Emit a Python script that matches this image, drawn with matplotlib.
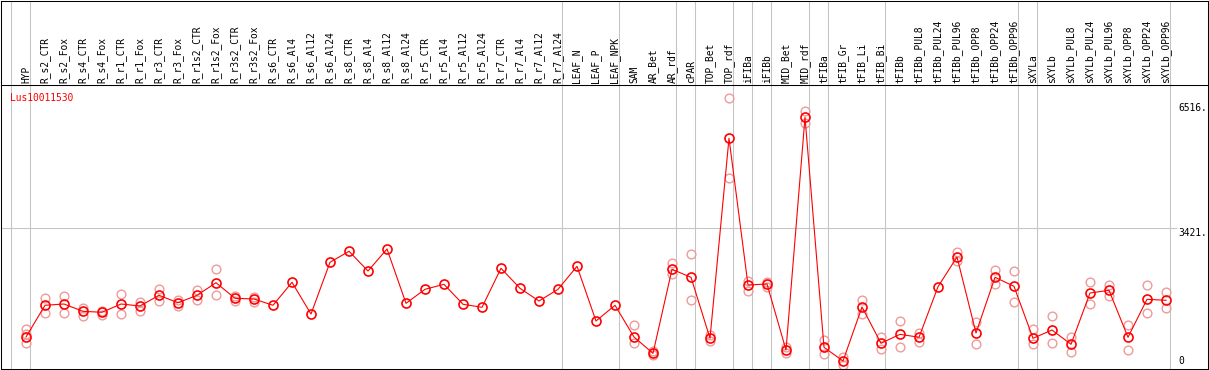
import matplotlib
matplotlib.use("Agg")
import matplotlib.pyplot as plt
import numpy as np

# === Datos ===
gene = "Lus10011530"

samples = [
    "HYP", "R_s2_CTR", "R_s2_Fox", "R_s4_CTR", "R_s4_Fox", "R_r1_CTR", "R_r1_Fox",
    "R_r3_CTR", "R_r3_Fox", "R_r1s2_CTR", "R_r1s2_Fox", "R_r3s2_CTR", "R_r3s2_Fox",
    "R_s6_CTR", "R_s6_Al4", "R_s6_Al12", "R_s6_Al24", "R_s8_CTR", "R_s8_Al4",
    "R_s8_Al12", "R_s8_Al24", "R_r5_CTR", "R_r5_Al4", "R_r5_Al12", "R_r5_Al24",
    "R_r7_CTR", "R_r7_Al4", "R_r7_Al12", "R_r7_Al24", "LEAF_N", "LEAF_P", "LEAF_NPK",
    "SAM", "AR_Bet", "AR_rdf", "cPAR", "TOP_Bet", "TOP_rdf", "iFIBa", "iFIBb",
    "MID_Bet", "MID_rdf", "tFIBa", "tFIB_Gr", "tFIB_Li", "tFIB_Bi", "tFIBb",
    "tFIBb_PUL8", "tFIBb_PUL24", "tFIBb_PUL96", "tFIBb_OPP8", "tFIBb_OPP24",
    "tFIBb_OPP96", "sXYLa", "sXYLb", "sXYLb_PUL8", "sXYLb_PUL24", "sXYLb_PUL96",
    "sXYLb_OPP8", "sXYLb_OPP24", "sXYLb_OPP96",
]

means = [
    723, 1508, 1540, 1359, 1335, 1540, 1491, 1755, 1572, 1755, 2067, 1681, 1664,
    1508, 2077, 1292, 2573, 2845, 2357, 2902, 1557, 1904, 2028, 1533, 1458, 2424,
    1929, 1614, 1904, 2474, 1119, 1508, 723, 319, 2399, 2201, 691, 5643, 2011,
    2035, 401, 6163, 468, 129, 1466, 567, 790, 716, 1968, 2704, 822, 2201, 1978,
    691, 896, 542, 1812, 1879, 716, 1656, 1632,
]

replicates = [
    [921, 797, 574], [1681, 1310], [1738, 1310], [1448, 1243], [1374, 1275],
    [1780, 1285], [1590, 1374], [1904, 1607], [1640, 1500], [1887, 1639],
    [2399, 1755], [1738, 1622], [1721, 1590], [], [], [], [], [], [], [], [],
    [], [], [], [], [], [], [], [], [], [], [],
    [1013, 567], [376, 265], [2555, 2283], [2778, 1632], [773, 631],
    [6633, 4652], [2117, 1869], [2092, 1968], [483, 334], [6311, 6014],
    [649, 302], [235, 30], [1639, 1285], [730, 433], [1119, 475], [822, 592],
    [], [2820, 2597], [1102, 550], [2374, 2035], [2350, 1590], [921, 542],
    [1236, 567], [723, 359], [2077, 1540], [2011, 1731], [1013, 394],
    [2003, 1325], [1837, 1448],
]

# ultimo indice de cada grupo de muestras
group_ends = [-1, 0, 28, 31, 34, 35, 37, 38, 39, 41, 42, 45, 52, 53, 60]

y_ticks = [6516, 3421, 0]
y_tick_labels = ["6516.", "3421.", "0"]

# === Layout (pixeles) ===
W, H = 1209, 370
X0, DX = 26, 19          # centro de la primera muestra, separacion
TOP_HDR, BOT = 85, 369   # linea bajo cabecera, borde inferior
Y0_PIX, PX_PER_UNIT = 366.2, 1 / 24.76

def px2x(p):
    return (p - X0) / DX

def px2v(p):
    return (Y0_PIX - p) / PX_PER_UNIT

plt.rcParams['font.family'] = ['DejaVu Sans Mono']
fig = plt.figure(figsize=(W / 100, H / 100), dpi=100)
fig.patch.set_facecolor("white")

left, right = 1 / W, 1208 / W
ax = fig.add_axes([left, 1 - BOT / H, right - left, (BOT - TOP_HDR) / H])
hx = fig.add_axes([left, 1 - TOP_HDR / H, right - left, (TOP_HDR - 0.5) / H])

xlim = (px2x(1), px2x(1208))
for a in (ax, hx):
    a.set_xlim(*xlim)
    a.set_xticks([])
    a.set_yticks([])
    for s in a.spines.values():
        s.set_linewidth(0.75)
        s.set_color("black")
    for g in group_ends:
        a.axvline(g + 4 / DX, color="#c4c4c4", lw=0.75, zorder=0)

ax.set_ylim(px2v(BOT), px2v(TOP_HDR))
hx.set_ylim(0, TOP_HDR)

x = np.arange(len(samples))

# etiquetas de muestras
for i, s in enumerate(samples):
    hx.text(x[i], 2, s, rotation=90, ha="center", va="bottom", fontsize=6.9)

# linea de rejilla y ticks a la derecha
x_lab = px2x(1178)
ax.hlines(y_ticks[1], xlim[0], px2x(1177), color="#c4c4c4", lw=0.75, zorder=0)
for v, lab in zip(y_ticks, y_tick_labels):
    ax.text(x_lab, v, lab, ha="left", va="bottom" if v == 0 else "top", fontsize=6.9)

# replicas
rx = [x[i] for i, r in enumerate(replicates) for _ in r]
ry = [v for r in replicates for v in r]
ax.plot(rx, ry, "o", ls="none", ms=6.3, mfc="none", mec="#ee9a9a", mew=1.0, zorder=2)

# medias
ax.plot(x, means, "-", color="red", lw=0.8, marker="o", ms=6.5, mfc="none",
        mec="red", mew=1.2, zorder=3)

ax.annotate(gene, xy=(0, 1), xycoords="axes fraction", xytext=(6.5, -5.5),
            textcoords="offset points", va="top", ha="left", color="red", fontsize=6.9)

fig.savefig("out.png", dpi=100, facecolor="white")
